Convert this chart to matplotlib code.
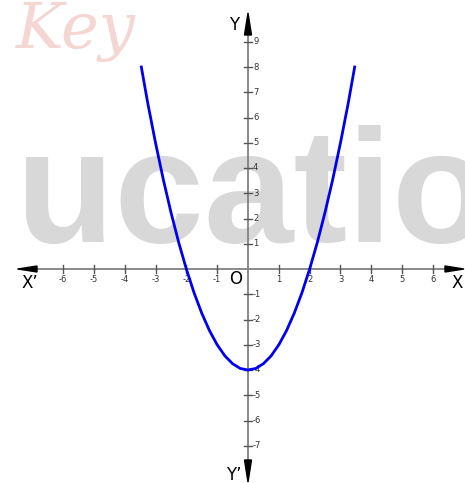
import numpy as np
import matplotlib.pyplot as plt
from matplotlib.patches import Polygon

# points
xs = [-3.46, -3.25, -3.0, -2.75, -2.5, -2.25, -2.0, -1.75, -1.5, -1.25, -1.0, -0.75, -0.5, -0.25, 0.0,
      0.25, 0.5, 0.75, 1.0, 1.25, 1.5, 1.75, 2.0, 2.25, 2.5, 2.75, 3.0, 3.25, 3.46]
ys = [8.0, 6.56, 5.0, 3.56, 2.25, 1.06, 0.0, -0.94, -1.75, -2.44, -3.0, -3.44, -3.75, -3.94, -4.0,
      -3.94, -3.75, -3.44, -3.0, -2.44, -1.75, -0.94, 0.0, 1.06, 2.25, 3.56, 5.0, 6.56, 8.0]

xticks = [-6, -5, -4, -3, -2, -1, 1, 2, 3, 4, 5, 6]
yticks = [-7, -6, -5, -4, -3, -2, -1, 1, 2, 3, 4, 5, 6, 7, 8, 9]

# pixel scale of the reference
px_x = 30.83   # px per unit on x
px_y = 25.25   # px per unit on y
ox, oy = 248, 269
W, H = 465, 483

fig = plt.figure(figsize=(W / 100, H / 100), dpi=100)
ax = fig.add_axes([0, 0, 1, 1])
ax.set_xlim(-ox / px_x, (W - ox) / px_x)
ax.set_ylim(-(H - oy) / px_y, oy / px_y)
ax.axis('off')

# watermark, behind everything
ax.text(16 / W, 1 - 242 / H, 'ucatio', transform=ax.transAxes, fontsize=116, fontweight='bold',
        family='Liberation Sans', color='#d8d8d8', ha='left', va='baseline', zorder=0)
ax.text(16 / W, 1 - 48 / H, 'Key', transform=ax.transAxes, fontsize=46, style='italic',
        family='DejaVu Serif', color='#f4d6d2', ha='left', va='baseline', zorder=0)

dx = 1 / px_x
dy = 1 / px_y
axcol = '#808080'

# axes lines
ax.plot([-230 * dx, 210 * dx], [0, 0], color=axcol, lw=1.3, zorder=2)
ax.plot([0, 0], [-205 * dy, 240 * dy], color=axcol, lw=1.3, zorder=2)

# arrow heads
xl = -(ox - 18) * dx
xr = (W - ox - 1) * dx
yt = (oy - 13) * dy
yb = -(H - oy - 1) * dy
ax.add_patch(Polygon([[xl, 0], [xl + 19 * dx, 3 * dy], [xl + 19 * dx, -3 * dy]], color='black', zorder=3))
ax.add_patch(Polygon([[xr, 0], [xr - 19 * dx, 3 * dy], [xr - 19 * dx, -3 * dy]], color='black', zorder=3))
ax.add_patch(Polygon([[0, yt], [3.5 * dx, yt - 22 * dy], [-3.5 * dx, yt - 22 * dy]], color='black', zorder=3))
ax.add_patch(Polygon([[0, yb], [3.5 * dx, yb + 22 * dy], [-3.5 * dx, yb + 22 * dy]], color='black', zorder=3))

# ticks
for t in xticks:
    ax.plot([t, t], [-4 * dy, 4 * dy], color='#555555', lw=1, zorder=2)
    ax.text(t, -10 * dy, str(t), fontsize=6, ha='center', va='center', color='#333333', zorder=3)
for t in yticks:
    ax.plot([-4 * dx, 4 * dx], [t, t], color='#555555', lw=1, zorder=2)
    ax.text(5 * dx, t, str(t), fontsize=6, ha='left', va='center', color='#333333', zorder=3)

# axis names
ax.text(-218 * dx, -14 * dy, 'X’', fontsize=12, ha='center', va='center', zorder=3)
ax.text(209 * dx, -14 * dy, 'X', fontsize=12, ha='center', va='center', zorder=3)
ax.text(-12 * dx, -10 * dy, 'O', fontsize=12, ha='center', va='center', zorder=3)
ax.text(-14 * dx, 244 * dy, 'Y', fontsize=12, ha='center', va='center', zorder=3)
ax.text(-14 * dx, -206 * dy, 'Y’', fontsize=12, ha='center', va='center', zorder=3)

# curve
ax.plot(xs, ys, color='#0000ee', lw=2, zorder=4)

fig.savefig('out.png', dpi=100)
